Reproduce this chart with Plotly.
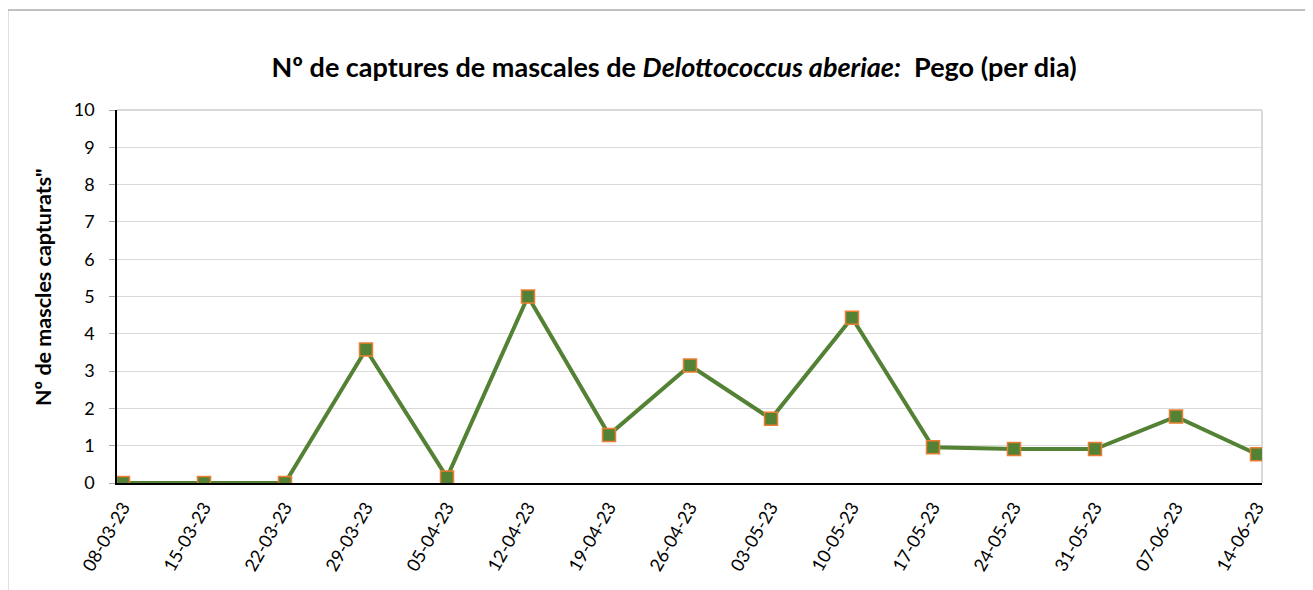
import plotly.graph_objects as go

dates = ["08-03-23", "15-03-23", "22-03-23", "29-03-23", "05-04-23", "12-04-23",
         "19-04-23", "26-04-23", "03-05-23", "10-05-23", "17-05-23", "24-05-23",
         "31-05-23", "07-06-23", "14-06-23"]
captures = [0, 0, 0, 3.58, 0.15, 5.0, 1.29, 3.15, 1.72, 4.43, 0.96, 0.91, 0.91, 1.78, 0.77]
y_ticks = list(range(0, 11))

FONT = "Lato"
OFF = 8  # page body margin
FW, FH = 1313 - OFF, 590 - OFF
L, R, T, B = 117 - OFF, 1262 - OFF, 110 - OFF, 483 - OFF
W, H = R - L, B - T

def px(xp):
    return (xp - OFF - L) / W

def py(yp):
    return (B - (yp - OFF)) / H

fig = go.Figure()
fig.add_trace(go.Scatter(
    x=dates, y=captures, mode="lines+markers",
    line=dict(color="#548235", width=4),
    marker=dict(symbol="square", size=13, color="#548235",
                line=dict(color="#ED7D31", width=1.5)),
    hoverinfo="x+y", showlegend=False,
))

fig.update_layout(
    width=FW, height=FH,
    margin=dict(l=L, r=FW - R, t=T, b=FH - B),
    paper_bgcolor="white", plot_bgcolor="white",
    font=dict(family=FONT, color="#000000", size=18),
    title=dict(
        text="Nº de captures de mascales de <i>Delottococcus aberiae:</i>\u00a0 Pego (per dia)",
        font=dict(family=FONT, size=27, color="#000000", weight="bold"),
        x=(674 - OFF) / FW, xanchor="center", xref="container",
        y=1 - (68 - OFF) / FH, yanchor="middle", yref="container",
    ),
    xaxis=dict(
        type="category", range=[-6 / 81, 14 + 5 / 81],
        showgrid=False, showline=True, linecolor="#000000", linewidth=1.5,
        ticks="", tickangle=-60, tickfont=dict(family=FONT, size=18, color="#000000"),
        zeroline=False, ticklabelstandoff=5,
    ),
    yaxis=dict(
        range=[0, 10], tickvals=y_ticks, ticktext=[str(v) for v in y_ticks],
        showgrid=True, gridcolor="#D9D9D9", gridwidth=1,
        showline=True, linecolor="#000000", linewidth=1.5,
        ticks="outside", ticklen=6, tickcolor="#A6A6A6",
        tickfont=dict(family=FONT, size=18, color="#000000"),
        zeroline=False, ticklabelstandoff=11,
    ),
    annotations=[dict(
        text="Nº de mascles capturats\"", textangle=-90,
        xref="paper", yref="paper", x=px(43), y=py(287),
        xanchor="center", yanchor="middle", showarrow=False,
        font=dict(family=FONT, size=21.5, color="#000000", weight="bold"),
    )],
    shapes=[
        # plot area border (right / top)
        dict(type="line", xref="paper", yref="paper", x0=1, x1=1, y0=0, y1=1,
             line=dict(color="#D9D9D9", width=2), layer="below"),
        dict(type="line", xref="paper", yref="paper", x0=0, x1=1, y0=1, y1=1,
             line=dict(color="#D9D9D9", width=2), layer="below"),
        # outer chart border (top / left)
        dict(type="line", xref="paper", yref="paper", x0=px(7.5), x1=px(1330),
             y0=py(10), y1=py(10), line=dict(color="#C0C0C0", width=2)),
        dict(type="line", xref="paper", yref="paper", x0=px(7.5), x1=px(7.5),
             y0=py(10), y1=py(610), line=dict(color="#C0C0C0", width=2)),
    ],
)

fig.write_html("out.html")
